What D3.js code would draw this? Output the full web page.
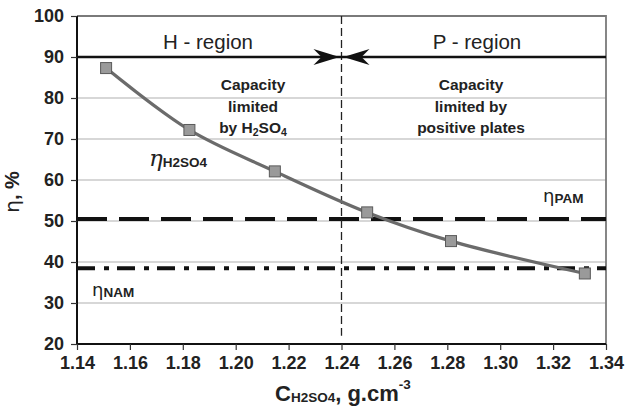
<!DOCTYPE html>
<html><head><meta charset="utf-8">
<script src="https://cdn.jsdelivr.net/npm/d3@7/dist/d3.min.js"></script>
<style>
html,body{margin:0;padding:0;background:#fff;}
svg{display:block;font-family:"Liberation Sans",Arial,sans-serif;}
</style></head>
<body>
<svg id="c" width="625" height="412"></svg>
<script>
const concentration = [1.151, 1.1825, 1.2148, 1.2497, 1.2814, 1.332];
const etaH2SO4 = [87.3, 72.2, 62.1, 52.1, 45.1, 37.2];
const etaPAM = 50.5;
const etaNAM = 38.5;
const boundaryC = 1.24;
const regionLevel = 90;
const xTicks = [1.14,1.16,1.18,1.20,1.22,1.24,1.26,1.28,1.30,1.32,1.34];
const yTicks = [20,30,40,50,60,70,80,90,100];
const gridValues = [30,40,50,60,70,80];

const svg = d3.select("#c");
const L = 77, R = 606, T = 16, B = 344;
const x = d3.scaleLinear().domain([1.14, 1.34]).range([L, R]);
const y = d3.scaleLinear().domain([20, 100]).range([B, T]);

// grid
svg.append("g").selectAll("line").data(gridValues).join("line")
  .attr("x1", L).attr("x2", R).attr("y1", d=>y(d)).attr("y2", d=>y(d))
  .attr("stroke", "#b0b0b0").attr("stroke-width", 1.2);

// frame top/right
svg.append("path").attr("d", `M${L},${T}H${R}V${B}`).attr("fill","none")
  .attr("stroke","#7a7a7a").attr("stroke-width",1.8);

// axes
const xAxis = svg.append("g").attr("transform",`translate(0,${B})`)
  .call(d3.axisBottom(x).tickValues(xTicks).tickFormat(d3.format(".2f")).tickSize(6).tickPadding(6));
const yAxis = svg.append("g").attr("transform",`translate(${L},0)`)
  .call(d3.axisLeft(y).tickValues(yTicks).tickSize(6).tickPadding(7));
[xAxis,yAxis].forEach(a=>{
  a.select(".domain").attr("stroke","#111").attr("stroke-width",2);
  a.selectAll(".tick line").attr("stroke","#333").attr("stroke-width",1.2);
  a.selectAll("text").attr("font-size",18).attr("font-weight","bold").attr("fill","#222")
    .attr("font-family",'"Liberation Sans",Arial,sans-serif');
});
xAxis.select(".domain").attr("d",`M${L},0H${R}`);
yAxis.select(".domain").attr("d",`M0,${B}V${T}`);

// PAM dashed
svg.append("line").attr("x1",L).attr("x2",R).attr("y1",y(etaPAM)).attr("y2",y(etaPAM))
  .attr("stroke","#111").attr("stroke-width",4).attr("stroke-dasharray","30,12");
// NAM dash-dot
svg.append("line").attr("x1",L).attr("x2",R).attr("y1",y(etaNAM)).attr("y2",y(etaNAM))
  .attr("stroke","#111").attr("stroke-width",4).attr("stroke-dasharray","18,9,5,8");

// boundary
svg.append("line").attr("x1",x(boundaryC)).attr("x2",x(boundaryC)).attr("y1",T).attr("y2",y(22))
  .attr("stroke","#222").attr("stroke-width",1.3).attr("stroke-dasharray","8,4");

// region line
svg.append("line").attr("x1",L).attr("x2",R).attr("y1",y(regionLevel)).attr("y2",y(regionLevel))
  .attr("stroke","#111").attr("stroke-width",2.5);
// arrowheads
const bx = x(boundaryC), ay = y(regionLevel);
svg.append("path").attr("d",`M${bx-2},${ay} L${bx-28},${ay-8} L${bx-20},${ay} L${bx-28},${ay+8} Z`).attr("fill","#111");
svg.append("path").attr("d",`M${bx+2},${ay} L${bx+28},${ay-8} L${bx+20},${ay} L${bx+28},${ay+8} Z`).attr("fill","#111");

// curve
const pts = concentration.map((c,i)=>[c, etaH2SO4[i]]);
svg.append("path").datum(pts)
  .attr("d", d3.line().x(d=>x(d[0])).y(d=>y(d[1])).curve(d3.curveCatmullRom.alpha(0.5)))
  .attr("fill","none").attr("stroke","#6b6b6b").attr("stroke-width",3.2);
svg.append("g").selectAll("rect").data(pts).join("rect")
  .attr("x",d=>x(d[0])-5.5).attr("y",d=>y(d[1])-5.5).attr("width",11).attr("height",11)
  .attr("fill","#9a9a9a").attr("stroke","#5a5a5a").attr("stroke-width",1);

// texts
function txt(xp, yp, s, size, weight, anchor){
  return svg.append("text").attr("x",xp).attr("y",yp).attr("font-size",size)
    .attr("font-weight",weight||"normal").attr("text-anchor",anchor||"middle").attr("fill","#222").text(s);
}
txt(208, 49, "H - region", 20.5, "normal");
txt(477, 49, "P - region", 20.5, "normal");
const cap1 = ["Capacity","limited"];
cap1.forEach((s,i)=>txt(253, 90+i*21.5, s, 15.5, "bold"));
const t3 = svg.append("text").attr("x",253).attr("y",133).attr("font-size",15.5).attr("font-weight","bold")
  .attr("text-anchor","middle").attr("fill","#222");
t3.append("tspan").text("by H");
t3.append("tspan").text("2").attr("font-size",10.5).attr("dy",3);
t3.append("tspan").text("SO").attr("dy",-3);
t3.append("tspan").text("4").attr("font-size",10.5).attr("dy",3);
["Capacity","limited by","positive plates"].forEach((s,i)=>txt(471, 90+i*21.5, s, 15.5, "bold"));

function etaLabel(xp, yp, sub, etaSize, subSize, italic){
  const t = svg.append("text").attr("x",xp).attr("y",yp).attr("fill","#222");
  t.append("tspan").text("η").attr("font-size",etaSize).attr("font-style",italic?"italic":"normal")
    .attr("font-family", italic ? '"DejaVu Serif",serif' : '"DejaVu Sans",sans-serif');
  t.append("tspan").text(sub).attr("font-size",subSize).attr("font-weight","bold").attr("dy",1);
  return t;
}
etaLabel(149, 166, "H2SO4", 23, 13.5, true);
etaLabel(543, 202, "PAM", 18, 13.5, false);
etaLabel(92, 296, "NAM", 18, 13.5, false);

// y label
const yl = svg.append("text").attr("transform","translate(19,192) rotate(-90)")
  .attr("text-anchor","middle").attr("font-size",20).attr("font-weight","bold").attr("fill","#222");
yl.append("tspan").text("η").attr("font-weight","normal").attr("font-family",'"DejaVu Sans",sans-serif');
yl.append("tspan").text(", %");

// x label
const xl = svg.append("text").attr("x",275).attr("y",401).attr("font-weight","bold").attr("fill","#222");
xl.append("tspan").text("C").attr("font-size",22);
xl.append("tspan").text("H2SO4").attr("font-size",13.5).attr("dy",1);
xl.append("tspan").text(", g.cm").attr("font-size",22).attr("dy",-1);
xl.append("tspan").text("-3").attr("font-size",13.5).attr("dy",-12);
</script>
</body></html>
